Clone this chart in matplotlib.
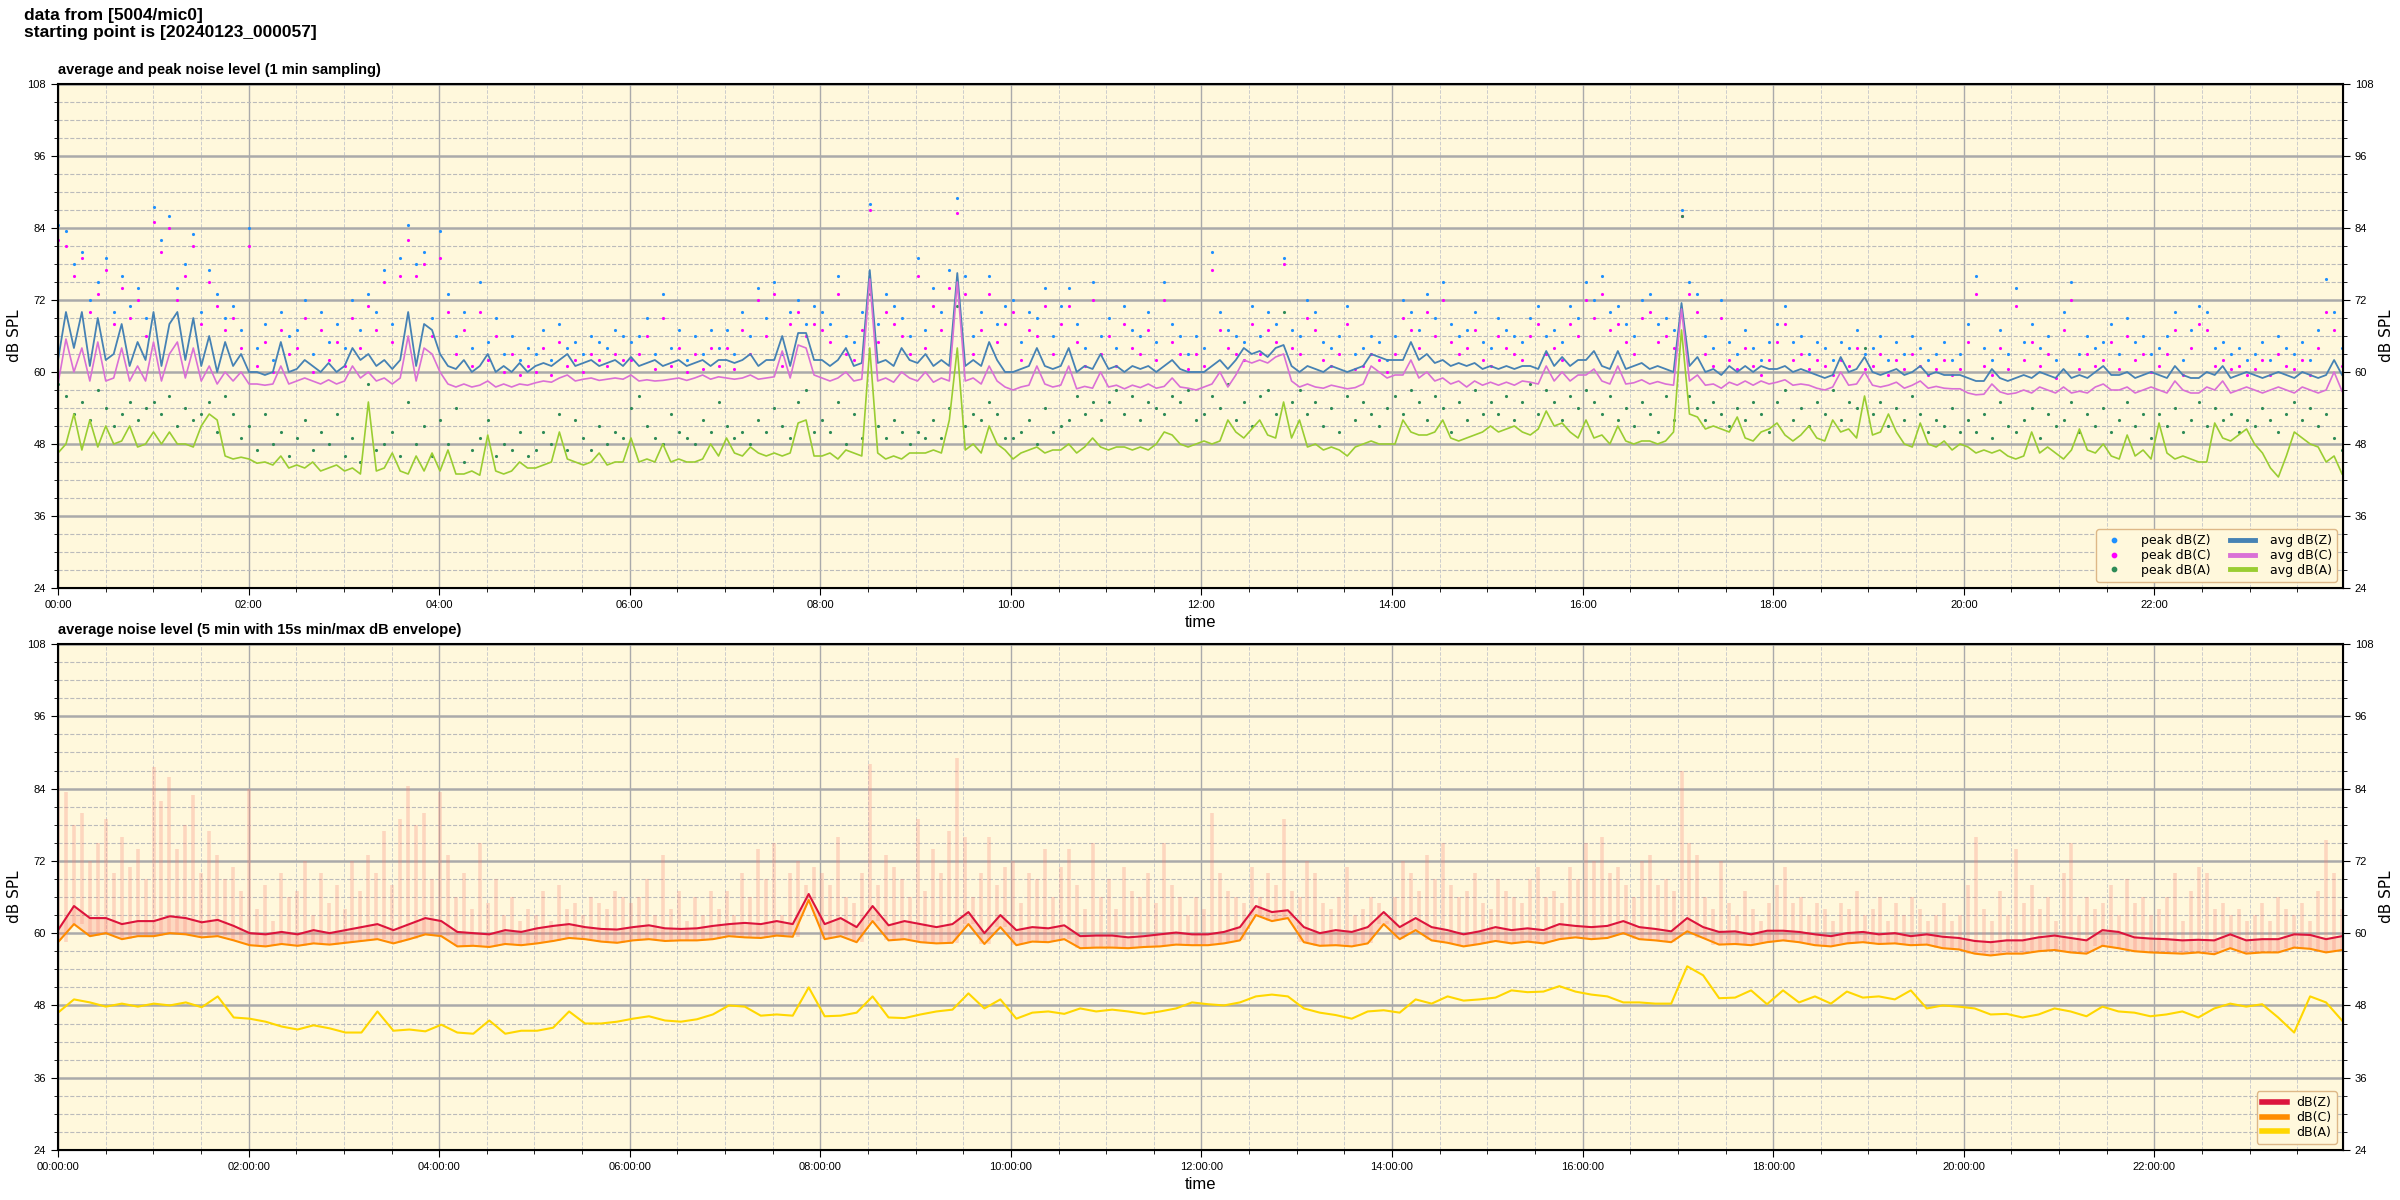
import numpy as np
import matplotlib
matplotlib.use('Agg')
import matplotlib.pyplot as plt
from matplotlib.ticker import MultipleLocator, FuncFormatter

plt.rcParams['font.family'] = ['Liberation Sans', 'DejaVu Sans']
WIDE = {'family': 'DejaVu Sans', 'size': 9}

# 1 min sampling panel, read at 5 min steps (one hour per row)
avg_z = [
    62, 70, 64, 70, 61, 69, 62, 63, 68, 61, 65, 62,
    70, 61, 68, 70, 62, 69, 61, 66, 60, 65, 61, 63,
    60, 60, 59.5, 60, 65, 60, 60.5, 62, 61, 60, 61.5, 60,
    61, 64, 62, 63, 61, 62, 60.5, 62, 70, 61, 68, 67,
    63, 61, 60.5, 62, 60, 61, 63, 60, 61, 60, 61.5, 60,
    61, 61.5, 61, 62, 63, 61, 61.5, 62, 61, 61.5, 62, 61,
    62.5, 61, 61.5, 62, 61, 61.5, 62, 61, 61.5, 62, 61, 62,
    62, 61.5, 62, 63, 61, 62, 62, 66, 61, 66.5, 66.5, 62,
    62, 61, 62, 64, 61, 61.5, 77, 61.5, 62, 61, 64, 62,
    61.5, 63, 61, 62, 61, 76.5, 61, 62, 61, 65, 62, 60,
    60, 60.5, 61, 64, 61, 60.5, 61, 64, 60, 61, 60.5, 63,
    60.5, 61, 60, 61, 60.5, 61, 60, 61, 62, 60.5, 60, 60,
    60, 61, 62, 60.5, 62, 64, 63, 63.5, 62.5, 64, 64.5, 61,
    60, 61, 60.5, 60, 61, 60.5, 60, 60.5, 61, 63, 62.5, 62,
    62, 62, 65, 62, 63, 61.5, 62, 61, 61.5, 61, 61.5, 60.5,
    61, 60.5, 61, 60.5, 61, 61, 60.5, 63.5, 61, 62.5, 61, 62,
    62, 63.5, 61, 60.5, 63.5, 60.5, 61, 61.5, 60.5, 61, 60.5, 60,
    71.5, 61, 62.5, 60, 60.5, 59.5, 61, 60, 61, 60, 61, 60.5,
    60.5, 61, 60, 60.5, 60, 59.5, 59, 59.5, 62.5, 60, 60.5, 62.5,
    60, 59.5, 60, 60.5, 59.5, 60, 61, 59.5, 60, 59.5, 59.5, 59.5,
    59, 58.5, 58.5, 60.5, 59, 58.5, 59, 59.5, 59, 60, 59.5, 59,
    60.5, 59, 59.5, 59, 60, 61, 59.5, 59.5, 60, 59, 59.5, 60,
    59.5, 59, 61, 59.5, 59, 59, 60, 59.5, 61, 59, 59.5, 60,
    59.5, 59, 59.5, 60, 59.5, 59, 60, 59.5, 59, 59.5, 62, 59.5,
]
avg_c = [
    58, 65.5, 60, 64, 58.5, 65, 58.5, 59, 64, 58.5, 61, 58.5,
    65, 58.5, 63, 65, 59, 64, 58.5, 61, 58, 60, 58.5, 60,
    58, 58, 57.8, 58, 61, 58, 58.5, 59, 58.5, 58, 58.7, 58,
    58.5, 61, 59, 60, 58.5, 59, 58, 59, 66, 58.5, 64, 63,
    60, 58, 57.5, 58, 57.5, 57.8, 58.5, 57.5, 58, 57.5, 58, 57.8,
    58.2, 58.5, 58.3, 59, 59.5, 58.5, 58.8, 59, 58.6, 58.8, 59, 58.8,
    59.5, 58.5, 58.7, 58.5, 58.6, 58.8, 59, 58.6, 59, 59.5, 58.8, 59.2,
    59, 58.8, 59, 59.5, 58.8, 59, 59.2, 63.5, 59, 64.5, 64, 59.5,
    59, 58.5, 59, 60, 58.5, 58.8, 75.5, 58.5, 59, 58.3, 60, 59,
    58.5, 60, 58.3, 59, 58.5, 75, 58.5, 59, 58, 61, 58.5, 57.5,
    57, 57.5, 57.8, 61, 58, 57.5, 57.8, 61, 57.2, 57.6, 57.3, 60,
    57.5, 57.8, 57.2, 57.8, 57.4, 58, 57.3, 57.6, 59, 57.5, 57.3, 57,
    57.5, 58, 60, 57.5, 59.5, 62, 61.5, 62, 61.5, 62.5, 63, 58.5,
    57.5, 58, 57.5, 57.3, 57.8, 57.5, 57.2, 57.4, 58, 61, 60, 59,
    59.5, 59.5, 62, 59, 60, 58.5, 59, 58, 58.5, 57.5, 58.5, 57.8,
    58.3, 57.8, 58.3, 57.8, 58.5, 58.3, 58, 61, 58.5, 60, 58.5, 59.5,
    59.5, 60.5, 58.5, 58, 61, 58, 58.2, 58.7, 58, 58.4, 58, 57.8,
    70.5, 58.5, 59.5, 57.8, 58, 57.3, 58.3, 57.8, 58.5, 57.8, 58.5, 58,
    58.3, 58.7, 57.8, 58, 57.8, 57.3, 57, 57.5, 60, 57.8, 58, 60,
    57.8, 57.5, 57.8, 58.3, 57.3, 57.8, 58.5, 57.3, 57.6, 57.3, 57.2, 57.2,
    56.5, 56.2, 56.3, 58, 56.7, 56.3, 56.5, 57, 56.5, 57.5, 57, 56.5,
    57.5, 56.5, 56.8, 56.5, 57.5, 58, 57, 57, 57.5, 56.5, 57, 57.5,
    57, 56.5, 58.5, 57, 56.5, 56.5, 57.5, 57, 58.5, 56.5, 57, 57.5,
    57, 56.5, 57, 57.5, 57, 56.5, 57.5, 57, 56.5, 57, 60, 56.8,
]
avg_a = [
    46.5, 48, 53, 47, 52, 47.5, 51, 48, 48.5, 51, 47.5, 48,
    50, 48, 50, 48, 48, 47.5, 51, 53, 52, 46, 45.5, 45.8,
    45.5, 44.8, 45, 44.5, 46, 44, 44.5, 44, 45, 43.5, 44, 44.5,
    43.5, 44, 43, 55, 43.5, 44, 46.5, 43.5, 43, 46, 43.5, 46.5,
    43.5, 47, 43, 43, 43.5, 42.8, 49.5, 43.5, 43, 43.5, 45, 44,
    44, 44.5, 45, 50, 45.5, 45, 44.5, 45, 46.5, 44.5, 45, 45,
    49, 45, 45.5, 45, 48, 45, 45.5, 45, 45, 45.5, 48, 46,
    49, 46.5, 46, 47.5, 46.5, 46, 46.5, 46, 46.5, 51.5, 52, 46,
    46, 46.5, 45.5, 47, 46.5, 46, 64, 46.5, 45.5, 46, 45.5, 46.5,
    46.5, 46.5, 47, 46.5, 52, 64, 47, 48, 46.5, 51, 48, 47,
    45.5, 46.5, 47, 47.5, 46.5, 47, 47, 48, 46.5, 47.5, 49, 47.5,
    47, 47.5, 47.5, 47, 47.5, 47, 48, 50, 49.5, 48, 47.5, 48,
    48.5, 48, 48.5, 52, 50, 49, 50.5, 52, 49.5, 49, 55, 49,
    52, 47.5, 48, 47, 47.5, 47, 46, 47.5, 48, 48.5, 48, 48,
    48, 52, 50, 49.5, 49.5, 50, 52, 49, 48.5, 49, 49.5, 50,
    51, 50, 50.5, 51, 50, 49.5, 50.5, 53.5, 51, 51.5, 50, 49,
    52, 49, 49.5, 48, 51, 48.5, 48, 48.5, 48.5, 48, 48.5, 50,
    67, 53, 52.5, 50.5, 51, 50.5, 50, 52.5, 49, 48.5, 50, 50.5,
    51.5, 49.5, 48.5, 49.5, 51, 49, 48.5, 52, 50, 50.5, 49, 56,
    49.5, 50, 53, 50, 48, 47.5, 51.5, 48, 47.5, 48.5, 47, 48,
    47.5, 46.5, 47, 46.5, 47, 46, 45.5, 46, 50, 46.5, 47.5, 46.5,
    45.5, 47, 50.5, 47, 46.5, 48, 46, 45.5, 49.5, 46, 47, 45.5,
    51.5, 46.5, 45.5, 46, 45.5, 45, 45, 51.5, 49, 48.5, 49.5, 50.5,
    48, 46.5, 44, 42.5, 46, 50, 49, 48, 47.5, 45, 46, 43,
]
peak_z = [
    84.5, 83.5, 78, 80, 72, 75, 79, 70, 76, 71, 74, 69,
    87.5, 82, 86, 74, 78, 83, 70, 77, 73, 69, 71, 67,
    84, 64, 68, 62, 70, 66, 67, 72, 63, 70, 65, 68,
    64, 72, 67, 73, 70, 77, 68, 79, 84.5, 78, 80, 69,
    83.5, 73, 66, 70, 64, 75, 65, 69, 63, 66, 62, 64,
    63, 67, 62, 68, 64, 65, 63, 66, 65, 64, 67, 66,
    65, 66, 69, 63, 73, 64, 67, 62, 66, 63, 67, 64,
    67, 63, 70, 66, 74, 69, 75, 63, 70, 72, 68, 71,
    70, 68, 76, 66, 65, 70, 88, 68, 73, 71, 69, 66,
    79, 67, 74, 70, 77, 89, 76, 66, 70, 76, 68, 71,
    72, 65, 70, 69, 74, 66, 71, 74, 68, 64, 75, 66,
    69, 64, 71, 67, 66, 70, 65, 75, 68, 66, 63, 66,
    64, 80, 70, 67, 66, 65, 71, 66, 70, 68, 79, 67,
    66, 72, 70, 65, 64, 66, 71, 63, 64, 66, 65, 62,
    66, 72, 70, 67, 73, 69, 75, 68, 66, 67, 70, 65,
    64, 69, 67, 66, 65, 69, 71, 66, 67, 65, 71, 69,
    75, 72, 76, 70, 71, 68, 66, 72, 73, 68, 69, 67,
    87, 75, 73, 66, 64, 72, 65, 63, 67, 64, 62, 65,
    68, 71, 65, 66, 63, 65, 64, 62, 65, 64, 67, 63,
    64, 66, 62, 65, 63, 66, 64, 62, 63, 65, 62, 63,
    68, 76, 64, 62, 67, 63, 74, 65, 68, 64, 66, 62,
    70, 75, 63, 66, 64, 65, 68, 63, 69, 65, 66, 63,
    64, 66, 70, 62, 67, 71, 70, 64, 65, 63, 64, 62,
    63, 65, 62, 66, 64, 63, 65, 62, 67, 75.5, 70, 64,
]
peak_c = [
    82, 81, 76, 79, 70, 73, 77, 68, 74, 69, 72, 66,
    85, 80, 84, 72, 76, 81, 68, 75, 71, 67, 69, 64,
    81, 61, 65, 60, 67, 63, 64, 69, 60, 67, 62, 65,
    61, 69, 64, 71, 67, 75, 65, 76, 82, 76, 78, 66,
    79, 70, 63, 67, 61, 70, 62, 66, 60, 63, 59.5, 61,
    60, 64, 59.5, 65, 61, 62, 60, 63, 62, 61, 63, 62,
    62, 63, 66, 60.5, 69, 61, 64, 60, 63, 60.5, 64, 61,
    64, 60.5, 67, 63, 72, 66, 73, 61, 68, 70, 66, 68,
    67, 65, 73, 63, 62, 67, 87, 65, 70, 68, 66, 63,
    76, 64, 71, 67, 74, 86.5, 73, 63, 67, 73, 65, 68,
    70, 62, 67, 66, 71, 63, 68, 71, 65, 61, 72, 63,
    66, 61, 68, 64, 63, 67, 62, 72, 65, 63, 60.5, 63,
    61, 77, 67, 64, 63, 62, 68, 63, 67, 65, 78, 64,
    63, 69, 67, 62, 61, 63, 68, 60.5, 61, 63, 62, 60,
    63, 69, 67, 64, 70, 66, 72, 65, 63, 64, 67, 62,
    61, 66, 64, 63, 62, 66, 68, 63, 64, 62, 68, 66,
    72, 69, 73, 67, 68, 65, 63, 69, 70, 65, 66, 64,
    86, 73, 70, 63, 61, 69, 62, 60.5, 64, 61, 59.5, 62,
    65, 68, 62, 63, 60.5, 62, 61, 59.5, 62, 61, 64, 60.5,
    61, 63, 59.5, 62, 60.5, 63, 61, 59.5, 60.5, 62, 59.5, 60.5,
    65, 73, 61, 59.5, 64, 60.5, 71, 62, 65, 61, 63, 59,
    67, 72, 60.5, 63, 61, 62, 65, 60.5, 66, 62, 63, 60,
    61, 63, 67, 59.5, 64, 68, 67, 61, 62, 60.5, 61, 59.5,
    60.5, 62, 59.5, 63, 61, 60.5, 62, 59.5, 64, 70, 67, 61,
]
peak_a = [
    58, 56, 53, 55, 52, 57, 54, 51, 53, 55, 52, 54,
    55, 53, 56, 51, 54, 52, 53, 55, 50, 56, 53, 49,
    51, 47, 53, 48, 50, 46, 49, 52, 47, 50, 48, 53,
    46, 49, 45, 58, 47, 48, 50, 46, 55, 48, 51, 46,
    52, 48, 54, 45, 47, 49, 52, 46, 48, 47, 50, 46,
    47, 50, 48, 53, 47, 52, 49, 47, 51, 48, 50, 49,
    54, 56, 51, 49, 48, 53, 50, 49, 48, 52, 50, 55,
    51, 49, 50, 48, 52, 50, 54, 51, 49, 55, 57, 50,
    52, 50, 55, 48, 53, 49, 73, 51, 49, 52, 50, 48,
    50, 49, 52, 49, 54, 71, 51, 53, 52, 55, 53, 49,
    49, 50, 52, 48, 54, 50, 51, 52, 56, 53, 55, 52,
    55, 57, 53, 56, 52, 55, 54, 53, 56, 55, 57, 52,
    53, 56, 54, 58, 52, 55, 51, 56, 57, 53, 70, 55,
    57, 53, 55, 51, 54, 50, 56, 52, 55, 53, 51, 54,
    56, 53, 57, 55, 52, 56, 54, 50, 55, 52, 57, 53,
    55, 53, 56, 52, 55, 58, 53, 57, 55, 52, 56, 54,
    57, 55, 53, 56, 52, 54, 51, 55, 53, 50, 56, 52,
    86, 56, 54, 52, 55, 53, 51, 54, 52, 55, 53, 50,
    55, 57, 52, 54, 51, 55, 53, 57, 52, 55, 54, 64,
    53, 55, 51, 54, 52, 56, 53, 50, 52, 51, 54, 50,
    52, 50, 53, 49, 55, 51, 50, 52, 54, 49, 53, 51,
    52, 55, 50, 53, 51, 54, 50, 52, 55, 51, 53, 49,
    53, 51, 54, 50, 52, 55, 51, 54, 52, 53, 50, 52,
    51, 54, 52, 50, 53, 55, 52, 54, 51, 53, 49, 47,
]

# 5 min average panel, read at 10 min steps (one hour per row)
bot_z = [
    60.5, 64.5, 62.5, 62.5, 61.5, 62,
    62, 62.8, 62.5, 61.8, 62.2, 61.2,
    60, 59.8, 60.2, 59.8, 60.5, 60,
    60.5, 61, 61.5, 60.5, 61.5, 62.5,
    62, 60.2, 60, 59.8, 60.5, 60.2,
    60.8, 61.2, 61.5, 61, 60.7, 60.6,
    61, 61.3, 60.8, 60.7, 60.8, 61.2,
    61.5, 61.7, 61.5, 62, 61.5, 66.5,
    61.5, 62.5, 61, 64.5, 61.3, 62,
    61.5, 61, 61.5, 63.5, 60, 63,
    60.5, 61, 60.8, 61.3, 59.5, 59.6,
    59.6, 59.3, 59.5, 59.8, 60.1, 59.8,
    59.8, 60.2, 61, 64.5, 63.5, 63.8,
    61, 60, 60.5, 60.2, 61, 63.5,
    61, 62.5, 61, 60.5, 59.8, 60.3,
    61, 60.5, 60.8, 60.5, 61.5, 61.2,
    61, 61.2, 62, 61, 60.7, 60.3,
    62.5, 61, 60.2, 60.3, 59.8, 60.4,
    60.4, 60.2, 59.8, 59.5, 60, 60.2,
    59.8, 60, 59.5, 59.8, 59.4, 59.2,
    58.7, 58.5, 58.8, 58.8, 59.3, 59.6,
    59.2, 58.8, 60.5, 60.2, 59.3, 59.1,
    59, 58.8, 58.9, 58.8, 59.8, 58.8,
    59, 59, 59.8, 59.7, 59, 59.5,
]
bot_c = [
    58.5, 61.5, 59.5, 60, 59, 59.5,
    59.5, 60, 59.8, 59.3, 59.5, 58.8,
    58, 57.8, 58.2, 57.9, 58.3, 58.1,
    58.4, 58.7, 59, 58.3, 59, 59.8,
    59.5, 57.8, 57.9, 57.7, 58.2, 58,
    58.3, 58.7, 59.2, 59, 58.6, 58.4,
    58.8, 59, 58.7, 58.8, 58.8, 59,
    59.5, 59.3, 59.2, 59.6, 59.4, 65.5,
    59, 59.5, 58.5, 62, 58.8, 59,
    58.5, 58.3, 58.4, 61.5, 58.2, 61,
    58, 58.6, 58.5, 59, 57.5, 57.6,
    57.6, 57.5, 57.7, 57.8, 58.1, 58,
    58, 58.3, 58.8, 63, 62, 62.5,
    58.5, 57.9, 58, 57.8, 58.3, 61.5,
    59, 60.5, 58.8, 58.4, 57.8, 58.2,
    58.7, 58.3, 58.6, 58.3, 59, 59.3,
    59, 59.2, 60, 59, 58.8, 58.5,
    60.3, 59.2, 58.1, 58.2, 58, 58.5,
    58.8, 58.5, 58, 57.8, 58.3, 58.5,
    58.2, 58.3, 58, 58.1, 57.5, 57.3,
    56.6, 56.3, 56.6, 56.6, 57, 57.2,
    56.8, 56.6, 57.9, 57.5, 57, 56.8,
    56.7, 56.6, 56.8, 56.5, 57.5, 56.6,
    56.8, 56.8, 57.6, 57.4, 56.8, 57.2,
]
bot_a = [
    46.8, 49, 48.5, 47.8, 48.3, 47.8,
    48.3, 48, 48.5, 47.7, 49.5, 46,
    45.8, 45.3, 44.5, 44, 44.7, 44.2,
    43.5, 43.5, 47, 43.8, 44, 43.7,
    44.8, 43.5, 43.3, 45.5, 43.3, 43.8,
    43.8, 44.3, 47, 45, 45, 45.3,
    45.8, 46.2, 45.5, 45.3, 45.7, 46.5,
    48, 47.8, 46.3, 46.5, 46.3, 51,
    46.2, 46.3, 46.8, 49.5, 46, 45.9,
    46.5, 47, 47.3, 50, 47.5, 49,
    45.8, 46.8, 47, 46.6, 47.5, 47,
    47.3, 47, 46.6, 47, 47.5, 48.5,
    48.2, 48, 48.5, 49.5, 49.8, 49.5,
    47.5, 46.8, 46.4, 45.8, 47, 47.2,
    46.8, 49, 48.3, 49.5, 48.8, 49,
    49.3, 50.5, 50.2, 50.3, 51.2, 50.3,
    49.8, 49.5, 48.5, 48.5, 48.3, 48.3,
    54.5, 53, 49.2, 49.3, 50.5, 48.2,
    50.5, 48.5, 49.5, 48.3, 50.3, 49.3,
    49.5, 49, 50.5, 47.5, 48, 47.8,
    47.5, 46.5, 46.6, 46, 46.5, 47.5,
    47, 46.2, 47.8, 47, 46.8, 46.2,
    46.5, 47, 46, 47.5, 48.3, 47.8,
    48.2, 46, 43.5, 49.5, 48.5, 45.5,
]

t5 = np.linspace(0, 23.97, len(avg_z))
t10 = np.linspace(0, 23.97, len(bot_z))

fig = plt.figure(figsize=(24, 12), dpi=100)
fig.text(0.01, 0.993, 'data from [5004/mic0]\nstarting point is [20240123_000057]',
         fontsize=12.5, fontweight='bold', va='top', ha='left', linespacing=1.1)

ax1 = fig.add_axes([58 / 2400, 1 - 588 / 1200, 2285 / 2400, 504 / 1200])
ax2 = fig.add_axes([58 / 2400, 1 - 1150 / 1200, 2285 / 2400, 506 / 1200])


def style(ax, fmt):
    ax.set_facecolor('cornsilk')
    ax.set_xlim(0, 23.98)
    ax.set_ylim(24, 108)
    ax.xaxis.set_major_locator(MultipleLocator(2))
    ax.xaxis.set_minor_locator(MultipleLocator(0.5))
    ax.yaxis.set_major_locator(MultipleLocator(12))
    ax.yaxis.set_minor_locator(MultipleLocator(3))
    ax.xaxis.set_major_formatter(FuncFormatter(lambda v, p: fmt % int(round(v))))
    ax.grid(which='major', axis='y', color='#aaaaaa', lw=1.8)
    ax.grid(which='major', axis='x', color='#aaaaaa', lw=1.0)
    ax.grid(which='minor', axis='y', color='#bbbbbb', ls='--', lw=0.8)
    ax.grid(which='minor', axis='x', color='#cccccc', ls='--', lw=0.7)
    ax.set_axisbelow(True)
    ax.tick_params(which='both', direction='out', labelsize=8)
    ax.tick_params(which='major', length=5)
    ax.tick_params(which='minor', length=3)
    for s in ax.spines.values():
        s.set_linewidth(1.5)
    ax.set_xlabel('time', fontsize=12)
    ax.set_ylabel('dB SPL', fontsize=11, family='DejaVu Sans')
    tw = ax.twinx()
    tw.set_ylim(24, 108)
    tw.yaxis.set_major_locator(MultipleLocator(12))
    tw.yaxis.set_minor_locator(MultipleLocator(3))
    tw.tick_params(which='both', direction='out', labelsize=8)
    tw.tick_params(which='major', length=5)
    tw.tick_params(which='minor', length=3)
    tw.set_ylabel('dB SPL', fontsize=11, family='DejaVu Sans')
    return tw


style(ax1, '%02d:00')
ax1.set_title('average and peak noise level (1 min sampling)', loc='left',
              fontsize=10.5, fontweight='bold', pad=7)
ax1.plot(t5, peak_z, '.', color='dodgerblue', ms=2.5, label='peak dB(Z)')
ax1.plot(t5, peak_c, '.', color='magenta', ms=2.5, label='peak dB(C)')
ax1.plot(t5, peak_a, '.', color='seagreen', ms=2.5, label='peak dB(A)')
ax1.plot(t5, avg_z, color='steelblue', lw=1.3, label='avg dB(Z)')
ax1.plot(t5, avg_c, color='orchid', lw=1.2, label='avg dB(C)')
ax1.plot(t5, avg_a, color='yellowgreen', lw=1.2, label='avg dB(A)')
leg1 = ax1.legend(loc='lower right', ncol=2, markerscale=2.5,
                  facecolor='cornsilk', edgecolor='burlywood', framealpha=1, prop=WIDE,
                  handletextpad=1.2, columnspacing=1.5, borderpad=0.4, labelspacing=0.15)
for ln in leg1.get_lines():
    if ln.get_linestyle() == '-':
        ln.set_linewidth(3.5)

style(ax2, '%02d:00:00')
ax2.set_title('average noise level (5 min with 15s min/max dB envelope)', loc='left',
              fontsize=10.5, fontweight='bold', pad=7)
env_lo = np.repeat(bot_c, 2)
ax2.fill_between(t10, bot_c, bot_z, color='salmon', alpha=0.25, lw=0)
ax2.vlines(t5, env_lo, peak_z, color='salmon', alpha=0.28, lw=2.6)
ax2.plot(t10, bot_z, color='crimson', lw=1.5, label='dB(Z)')
ax2.plot(t10, bot_c, color='darkorange', lw=1.5, label='dB(C)')
ax2.plot(t10, bot_a, color='gold', lw=1.5, label='dB(A)')
leg2 = ax2.legend(loc='lower right', facecolor='cornsilk', edgecolor='burlywood',
                  framealpha=1, prop=WIDE, borderpad=0.4, labelspacing=0.15)
for ln in leg2.get_lines():
    ln.set_linewidth(4)

fig.savefig('out.png', dpi=100)
